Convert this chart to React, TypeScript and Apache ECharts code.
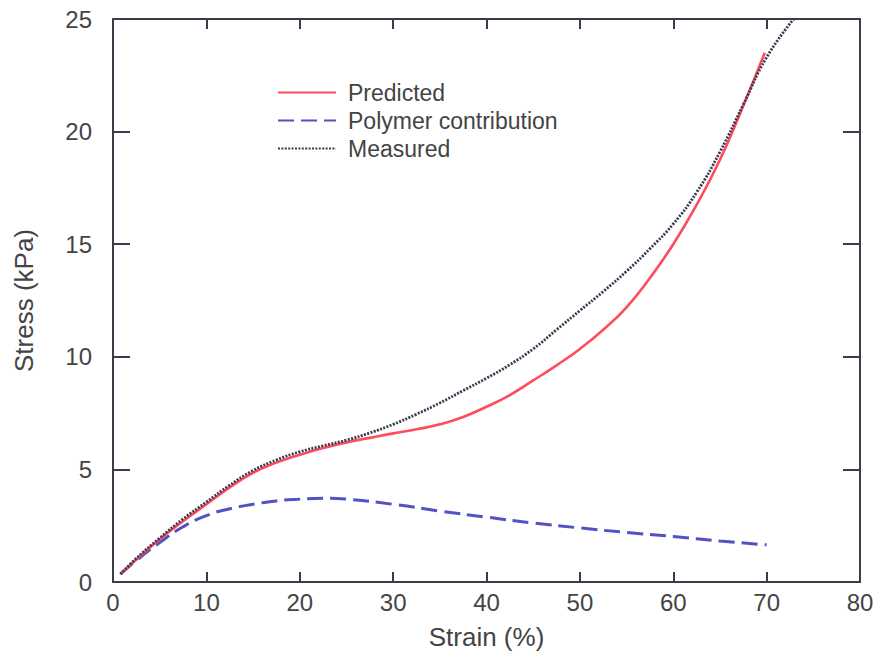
import React, { useEffect, useRef } from "react";
import * as echarts from "echarts";

const predictedX = [0.8, 2.5, 5, 7.5, 10, 12.5, 15, 17.5, 20, 22.5, 25, 27.5, 30, 32.5, 35, 37.5, 40, 42.5, 45, 47.5, 50, 52.5, 55, 57.5, 60, 62.5, 65, 67.5, 69.8];
const predictedY = [0.35, 1.0, 1.9, 2.7, 3.45, 4.2, 4.85, 5.3, 5.65, 5.95, 6.2, 6.4, 6.6, 6.78, 7.0, 7.33, 7.78, 8.3, 8.95, 9.62, 10.35, 11.2, 12.2, 13.5, 15.0, 16.75, 18.75, 21.15, 23.5];

const measuredX = [0.8, 2.5, 5, 7.5, 10, 12.5, 15, 17.5, 20, 22.5, 25, 27.5, 30, 32.5, 35, 37.5, 40, 42.5, 45, 47.5, 50, 52.5, 55, 57.5, 60, 62.5, 65, 67.5, 70, 72.9];
const measuredY = [0.35, 1.05, 1.95, 2.8, 3.55, 4.3, 4.95, 5.42, 5.78, 6.05, 6.3, 6.62, 7.0, 7.45, 7.95, 8.5, 9.05, 9.65, 10.35, 11.2, 12.05, 12.9, 13.8, 14.8, 15.9, 17.3, 19.1, 21.2, 23.3, 25.0];

const polymerX = [0.8, 2.5, 5, 7.5, 10, 12.5, 15, 17.5, 20, 22.5, 25, 30, 35, 40, 45, 50, 55, 60, 65, 70];
const polymerY = [0.35, 0.95, 1.75, 2.45, 2.95, 3.25, 3.45, 3.6, 3.68, 3.72, 3.68, 3.45, 3.15, 2.88, 2.62, 2.4, 2.2, 2.02, 1.82, 1.65];

const xTicks = { min: 0, max: 80, interval: 10 };
const yTicks = { min: 0, max: 25, interval: 5 };

const pairs = (xs: number[], ys: number[]) => xs.map((x, i) => [x, ys[i]]);

const AXIS_COLOR = "#3c3c4a";
const TEXT_COLOR = "#444444";
const FONT = "'Liberation Sans', Arial, Helvetica, sans-serif";

export default function App() {
  const ref = useRef<HTMLDivElement>(null);
  useEffect(() => {
    if (!ref.current) return;
    const chart = echarts.init(ref.current, null, { renderer: "svg" });
    const axisLine = { show: true, onZero: false, lineStyle: { color: AXIS_COLOR, width: 2 } };
    chart.setOption({
      animation: false,
      backgroundColor: "#ffffff",
      textStyle: { fontFamily: FONT },
      grid: { left: 113, right: 23, top: 19, bottom: 83, containLabel: false },
      legend: {
        orient: "vertical",
        left: 272,
        top: 76,
        itemWidth: 58,
        itemHeight: 14,
        itemGap: 5,
        itemStyle: { opacity: 0 },
        textStyle: { fontSize: 23, color: TEXT_COLOR, fontFamily: FONT, padding: [0, 0, 0, 7] },
        data: ["Predicted", "Polymer contribution", "Measured"],
      },
      xAxis: [
        {
          type: "value",
          ...xTicks,
          name: "Strain (%)",
          nameLocation: "middle",
          nameGap: 42,
          nameTextStyle: { fontSize: 26, color: TEXT_COLOR, fontFamily: FONT },
          axisLine,
          axisTick: { show: true, inside: true, length: 10, lineStyle: { color: AXIS_COLOR, width: 2 } },
          axisLabel: { show: true, margin: 8, fontSize: 24, color: TEXT_COLOR, fontFamily: FONT },
          splitLine: { show: false },
        },
        {
          type: "value",
          position: "top",
          ...xTicks,
          axisLine,
          axisTick: { show: true, inside: true, length: 10, lineStyle: { color: AXIS_COLOR, width: 2 } },
          axisLabel: { show: false },
          splitLine: { show: false },
        },
      ],
      yAxis: [
        {
          type: "value",
          ...yTicks,
          name: "Stress (kPa)",
          nameLocation: "middle",
          nameGap: 76,
          nameTextStyle: { fontSize: 26, color: TEXT_COLOR, fontFamily: FONT },
          axisLine,
          axisTick: { show: true, inside: true, length: 17, lineStyle: { color: AXIS_COLOR, width: 2 } },
          axisLabel: { show: true, margin: 21, fontSize: 24, color: TEXT_COLOR, fontFamily: FONT },
          splitLine: { show: false },
        },
        {
          type: "value",
          position: "right",
          ...yTicks,
          axisLine,
          axisTick: { show: true, inside: true, length: 17, lineStyle: { color: AXIS_COLOR, width: 2 } },
          axisLabel: { show: false },
          splitLine: { show: false },
        },
      ],
      series: [
        {
          name: "Predicted",
          type: "line",
          xAxisIndex: 0,
          yAxisIndex: 0,
          data: pairs(predictedX, predictedY),
          showSymbol: false,
          symbol: "none",
          smooth: 0.5,
          lineStyle: { color: "#ff4c5c", width: 2.6 },
          itemStyle: { color: "#ff4c5c" },
          z: 3,
        },
        {
          name: "Polymer contribution",
          type: "line",
          xAxisIndex: 0,
          yAxisIndex: 0,
          data: pairs(polymerX, polymerY),
          showSymbol: false,
          symbol: "none",
          smooth: 0.5,
          lineStyle: { color: "#5252c4", width: 3, type: [16, 7] },
          itemStyle: { color: "#5252c4" },
          z: 2,
        },
        {
          name: "Measured",
          type: "line",
          xAxisIndex: 0,
          yAxisIndex: 0,
          data: pairs(measuredX, measuredY),
          showSymbol: false,
          symbol: "none",
          smooth: 0.5,
          lineStyle: { color: "#3a3a50", width: 2.8, type: [2, 1.4] },
          itemStyle: { color: "#3a3a50" },
          z: 4,
        },
      ],
    });
    return () => chart.dispose();
  }, []);
  return (
    <div
      ref={ref}
      style={{ position: "fixed", left: 0, top: 0, width: 883, height: 665, background: "#fff" }}
    />
  );
}
